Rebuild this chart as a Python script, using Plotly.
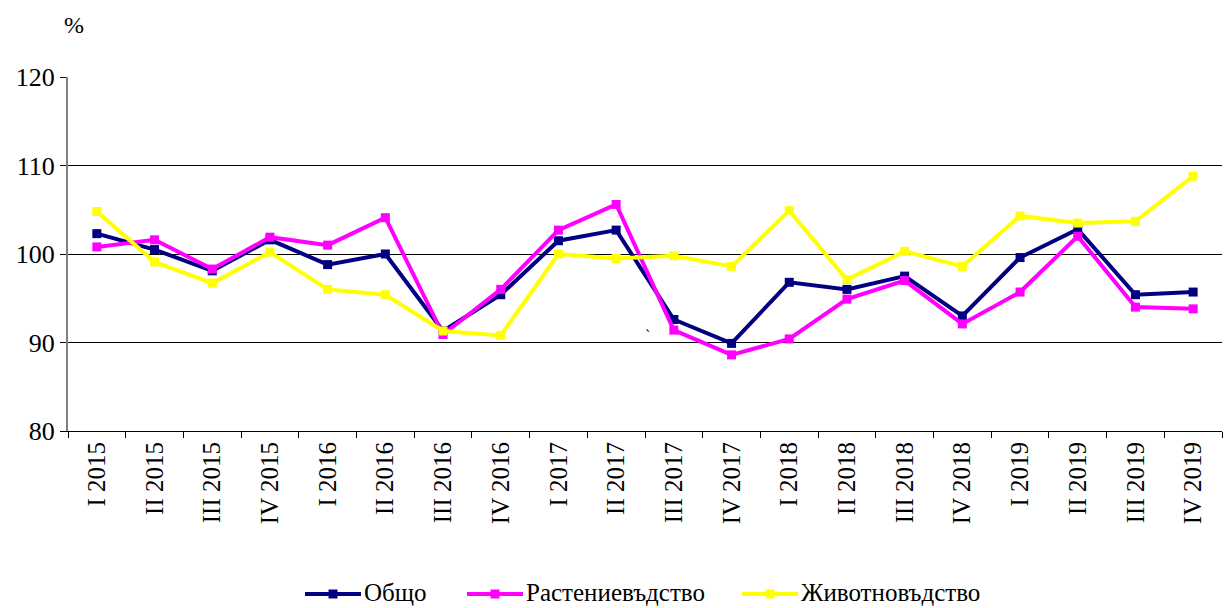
import plotly.graph_objects as go

categories = ["I 2015", "II 2015", "III 2015", "IV 2015",
              "I 2016", "II 2016", "III 2016", "IV 2016",
              "I 2017", "II 2017", "III 2017", "IV 2017",
              "I 2018", "II 2018", "III 2018", "IV 2018",
              "I 2019", "II 2019", "III 2019", "IV 2019"]

obshto = [102.3, 100.5, 98.1, 101.6, 98.8, 100.0, 91.3, 95.4, 101.5, 102.7,
          92.6, 89.9, 96.8, 96.0, 97.5, 93.0, 99.6, 102.8, 95.4, 95.7]
rastenievadstvo = [100.8, 101.6, 98.3, 101.9, 101.0, 104.1, 90.9, 96.0, 102.7, 105.6,
                   91.4, 88.6, 90.4, 94.9, 97.0, 92.1, 95.7, 102.0, 94.0, 93.8]
zhivotnovadstvo = [104.8, 99.1, 96.7, 100.2, 96.0, 95.4, 91.3, 90.8, 100.0, 99.5,
                   99.8, 98.6, 104.9, 97.1, 100.3, 98.6, 104.3, 103.5, 103.7, 108.8]

series_names = ["Общо", "Растениевъдство", "Животновъдство"]
series_values = [obshto, rastenievadstvo, zhivotnovadstvo]
series_colors = ["#000080", "#FF00FF", "#FFFF00"]

FONT = "Liberation Serif, Times New Roman, serif"

# layout geometry (pixels)
W, H = 1224, 608
ML, MR, MT, MB = 68, 2, 77, 177
PW, PH = W - ML - MR, H - MT - MB


def px_x(p):
    return (p - ML) / PW


def px_y(p):
    return (H - MB - p) / PH


fig = go.Figure()
for name, vals, color in zip(series_names, series_values, series_colors):
    fig.add_trace(go.Scatter(
        x=categories, y=vals, name=name, mode="lines+markers",
        line=dict(color=color, width=4),
        marker=dict(symbol="square", size=9, color=color),
        showlegend=False,
    ))

# legend drawn at the bottom like the original
legend_x0 = [305, 467, 742]
legend_y = 594
shapes = []
annotations = []
for name, color, x0 in zip(series_names, series_colors, legend_x0):
    shapes.append(dict(type="line", xref="paper", yref="paper",
                       x0=px_x(x0), x1=px_x(x0 + 56), y0=px_y(legend_y), y1=px_y(legend_y),
                       line=dict(color=color, width=4)))
    cx = x0 + 28
    shapes.append(dict(type="rect", xref="paper", yref="paper",
                       x0=px_x(cx - 4.5), x1=px_x(cx + 4.5),
                       y0=px_y(legend_y + 4.5), y1=px_y(legend_y - 4.5),
                       fillcolor=color, line=dict(width=0)))
    annotations.append(dict(text=name, xref="paper", yref="paper",
                            x=px_x(x0 + 58), y=px_y(607), showarrow=False,
                            xanchor="left", yanchor="bottom", borderpad=0,
                            font=dict(family=FONT, size=25, color="black")))

annotations.append(dict(text="%", xref="paper", yref="paper", x=0.0, y=1.0, yshift=52,
                        xshift=6, showarrow=False, font=dict(family=FONT, size=24),
                        xanchor="center", yanchor="middle"))
annotations.append(dict(text="`", xref="x", yref="y", x=9.55, y=90.8, showarrow=False,
                        font=dict(family=FONT, size=16), xanchor="center", yanchor="middle"))

fig.update_layout(
    width=W, height=H,
    margin=dict(l=ML, r=MR, t=MT, b=MB),
    paper_bgcolor="white", plot_bgcolor="white",
    font=dict(family=FONT, color="black", size=20),
    showlegend=False,
    xaxis=dict(
        type="category", showgrid=False, zeroline=False, automargin=False,
        showline=True, linecolor="black", linewidth=1,
        ticks="outside", tickson="boundaries", ticklen=6, tickcolor="black",
        tickangle=-90, tickfont=dict(family=FONT, size=25),
        range=[-0.5, 19.5],
    ),
    yaxis=dict(
        range=[80, 120], dtick=10, showgrid=True, gridcolor="black", gridwidth=1,
        zeroline=False, showline=True, linecolor="#808080", linewidth=2,
        automargin=False,
        ticks="outside", ticklen=6, tickcolor="black",
        tickfont=dict(family=FONT, size=26),
    ),
    shapes=shapes,
    annotations=annotations,
)

fig.write_html("out.html", config={"displayModeBar": False},
               post_script="document.body.style.margin='0';document.body.style.overflow='hidden';")
